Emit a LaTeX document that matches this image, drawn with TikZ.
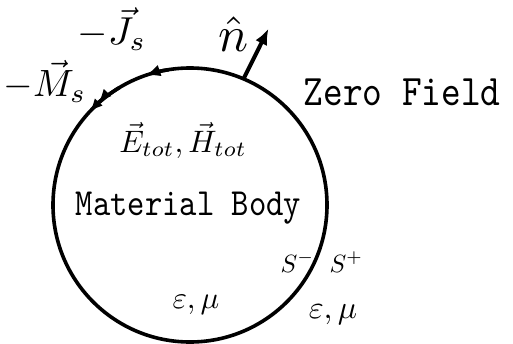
\documentclass[tikz,border=0pt]{standalone}
\usetikzlibrary{arrows.meta}
\begin{document}
\begin{tikzpicture}[x=1pt, y=1pt, line width=3.6pt,
  lbl/.style={inner sep=0pt, anchor=base},
  mth/.style={lbl, scale=#1/10},
  mono/.style={lbl, anchor=base west, font=\ttfamily, xscale=#1/10, yscale=#1/8.6}]
\useasboundingbox (-190,-138) rectangle (323,205);
\node[circle, draw, minimum size=274pt, inner sep=0pt, outer sep=0pt] (body) at (0,0) {};
% currents on the surface
\draw[-{Latex[length=15pt,width=12pt]}] (body.99) arc(99:109:137);
\draw[-{Latex[length=13pt,width=11pt]Latex[length=13pt,width=11pt]}] (body.121) arc(121:137:137);
% normal
\coordinate (ntip) at (66:193);
\draw[-{Latex[length=16pt,width=13pt]}, line width=4pt] (body.67) -- (ntip);
\node[mth=50] (nhat) at (44,153) {$\hat{n}$};
\node[mth=39] (jlab) at (-78,160) {$-\vec{J}_s$};
\node[mth=38] (mlab) at (-145,108) {$-\vec{M}_s$};
\node[mono=37.5] (zero) at (107,99) {Zero Field};
\node[mth=31] (fields) at (-7,53) {$\vec{E}_{tot},\vec{H}_{tot}$};
\node[mono=33] (mat) at (-120,-10) {Material Body};
\node[mth=25, anchor=base west] (sminus) at (86,-67) {$S^-$};
\node[mth=25, anchor=base west] (splus) at (135,-67) {$S^+$};
\node[mth=31] (epsin) at (6,-103) {$\varepsilon,\mu$};
\node[mth=32, anchor=base west] (epsout) at (113,-113) {$\varepsilon,\mu$};
\end{tikzpicture}
\end{document}
